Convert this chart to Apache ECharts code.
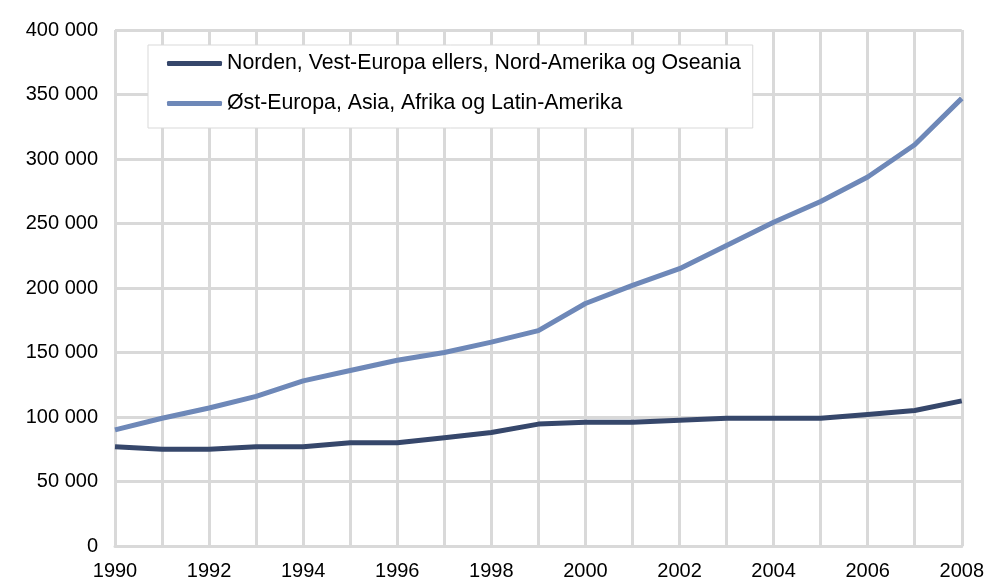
<!DOCTYPE html>
<html>
<head>
<meta charset="utf-8">
<script src="https://cdn.jsdelivr.net/npm/echarts@6/dist/echarts.min.js"></script>
<style>
  html, body { margin: 0; padding: 0; background: #fff; }
  #chart { width: 987px; height: 581px; }
</style>
</head>
<body>
<div id="chart"></div>
<script>
// år
var years = ["1990", "1991", "1992", "1993", "1994", "1995", "1996", "1997", "1998", "1999",
  "2000", "2001", "2002", "2003", "2004", "2005", "2006", "2007", "2008"];
// Norden, Vest-Europa ellers, Nord-Amerika og Oseania
var vest = [77000, 75000, 75000, 77000, 77000, 80000, 80000, 84000, 88000, 94500,
  96000, 96000, 97500, 99000, 99000, 99000, 102000, 105000, 112500];
// Øst-Europa, Asia, Afrika og Latin-Amerika
var ost = [90000, 99000, 107000, 116000, 128000, 136000, 144000, 150000, 158000, 167000,
  188000, 202000, 215000, 233000, 251000, 267000, 286000, 311000, 347000];
var names = ["Norden, Vest-Europa ellers, Nord-Amerika og Oseania",
  "Øst-Europa, Asia, Afrika og Latin-Amerika"];

var gridColor = "#d9d9d9";
var font = "Liberation Sans, Arial, sans-serif";

var chart = echarts.init(document.getElementById("chart"));
var option = {
  backgroundColor: "#fff",
  textStyle: { fontFamily: font },
  grid: { left: 115, right: 25, top: 30, bottom: 35 },
  legend: {
    orient: "vertical",
    left: 148,
    top: 45,
    padding: [8, 12, 14, 19],
    itemGap: 19,
    itemWidth: 55,
    itemHeight: 5,
    itemStyle: { borderWidth: 0 },
    icon: "roundRect",
    backgroundColor: "#fff",
    borderColor: gridColor,
    borderWidth: 1,
    borderRadius: 0,
    textStyle: { fontSize: 21.3, color: "#000", fontFamily: font },
    data: names
  },
  xAxis: {
    type: "category",
    data: years,
    boundaryGap: false,
    axisLine: { lineStyle: { color: gridColor, width: 3 } },
    axisTick: { show: false },
    axisLabel: { interval: 1, color: "#000", fontSize: 20, margin: 15, fontFamily: font },
    splitLine: { show: true, interval: 0, lineStyle: { color: gridColor, width: 3 } }
  },
  yAxis: {
    type: "value",
    min: 0,
    max: 400000,
    interval: 50000,
    axisLine: { show: false },
    axisTick: { show: false },
    axisLabel: {
      color: "#000",
      fontSize: 20,
      margin: 17,
      fontFamily: font,
      formatter: function (v) {
        return String(v).replace(/\B(?=(\d{3})+(?!\d))/g, " ");
      }
    },
    splitLine: { show: true, lineStyle: { color: gridColor, width: 3 } }
  },
  series: [
    {
      name: names[0],
      type: "line",
      data: vest,
      symbol: "none",
      lineStyle: { color: "#36476b", width: 5 },
      itemStyle: { color: "#36476b" },
      z: 3
    },
    {
      name: names[1],
      type: "line",
      data: ost,
      symbol: "none",
      lineStyle: { color: "#6e88b8", width: 5 },
      itemStyle: { color: "#6e88b8" },
      z: 3
    }
  ]
};
chart.setOption(option);
</script>
</body>
</html>
